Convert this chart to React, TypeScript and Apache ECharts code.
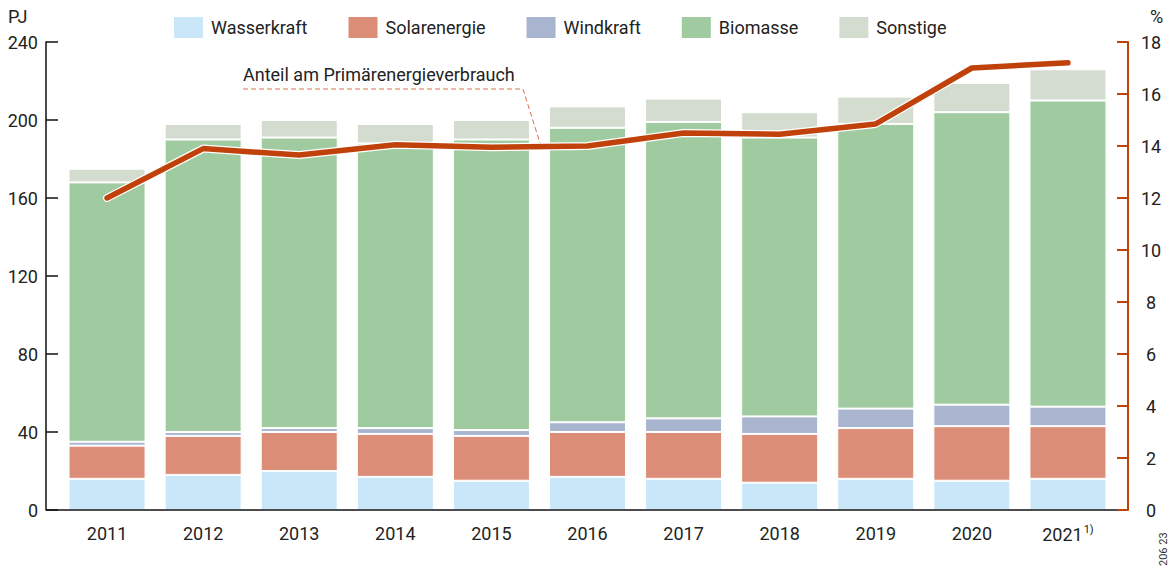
import React, { useEffect, useRef } from "react";
import * as echarts from "echarts";

const years = ["2011", "2012", "2013", "2014", "2015", "2016", "2017", "2018", "2019", "2020", "2021"];
const wasserkraft = [16, 18, 20, 17, 15, 17, 16, 14, 16, 15, 16];
const solarenergie = [17, 20, 20, 22, 23, 23, 24, 25, 26, 28, 27];
const windkraft = [2, 2, 2, 3, 3, 5, 7, 9, 10, 11, 10];
const biomasse = [133, 150, 149, 146, 149, 151, 152, 143, 146, 150, 157];
const sonstige = [7, 8, 9, 10, 10, 11, 12, 13, 14, 15, 16];
const anteil = [12.0, 13.9, 13.65, 14.05, 13.95, 14.0, 14.5, 14.45, 14.85, 17.0, 17.2];
const leftTicks = [0, 40, 80, 120, 160, 200, 240];
const rightTicks = [0, 2, 4, 6, 8, 10, 12, 14, 16, 18];

const FONT = "Roboto, 'Liberation Sans', sans-serif";
const TXT = "#222";
const ORANGE = "#C0410A";

export default function App() {
  const ref = useRef<HTMLDivElement>(null);
  useEffect(() => {
    if (!ref.current) return;
    const chart = echarts.init(ref.current, null, { renderer: "svg" });
    const barItem = (color: string) => ({ color, borderColor: "#fff", borderWidth: 1 });
    const mkBar = (name: string, data: number[], color: string) => ({
      name,
      type: "bar",
      stack: "pj",
      data,
      barWidth: 77,
      itemStyle: barItem(color),
      z: 2,
    });
    chart.setOption({
      animation: false,
      textStyle: { fontFamily: FONT, color: TXT },
      legend: {
        data: ["Wasserkraft", "Solarenergie", "Windkraft", "Biomasse", "Sonstige"],
        left: 172,
        top: 15,
        padding: 0,
        itemWidth: 31,
        itemHeight: 23,
        itemGap: 39,
        icon: "rect",
        textStyle: { fontFamily: FONT, fontSize: 18, color: TXT, padding: [0, 0, 0, 2] },
      },
      grid: { left: 59, right: 55, top: 42, bottom: 57, outerBoundsMode: "none", containLabel: false },
      xAxis: {
        type: "category",
        data: years,
        boundaryGap: true,
        axisLine: { show: false },
        axisTick: { show: false },
        axisLabel: {
          interval: 0,
          fontSize: 18,
          color: TXT,
          fontFamily: FONT,
          margin: 14,
          formatter: (v: string) => (v === "2021" ? "2021{sup|1)}" : v),
          rich: { sup: { fontSize: 11, verticalAlign: "top", padding: [0, 0, 10, 1], color: TXT, fontFamily: FONT } },
        },
      },
      yAxis: [
        {
          type: "value",
          min: leftTicks[0],
          max: leftTicks[leftTicks.length - 1],
          interval: 40,
          position: "left",
          offset: 13,
          axisLine: { show: true, lineStyle: { color: "#111", width: 1.5 } },
          axisTick: { show: true, inside: true, length: 12, lineStyle: { color: "#111", width: 1.5 } },
          axisLabel: { fontSize: 18, color: TXT, fontFamily: FONT, margin: 8 },
          splitLine: { show: false },
        },
        {
          type: "value",
          min: rightTicks[0],
          max: rightTicks[rightTicks.length - 1],
          interval: 2,
          position: "right",
          offset: 12,
          axisLine: { show: true, lineStyle: { color: ORANGE, width: 2 } },
          axisTick: { show: true, inside: true, length: 11, lineStyle: { color: ORANGE, width: 2 } },
          axisLabel: { fontSize: 18, color: TXT, fontFamily: FONT, margin: 23, align: "center" },
          splitLine: { show: false },
        },
      ],
      series: [
        mkBar("Wasserkraft", wasserkraft, "#C9E7F8"),
        mkBar("Solarenergie", solarenergie, "#DC8D77"),
        mkBar("Windkraft", windkraft, "#A9B5CF"),
        mkBar("Biomasse", biomasse, "#A0CAA0"),
        mkBar("Sonstige", sonstige, "#D4DCD0"),
        {
          name: "outline",
          type: "line",
          yAxisIndex: 1,
          data: anteil,
          symbol: "none",
          lineStyle: { color: "#fff", width: 8, cap: "round", join: "round" },
          z: 5,
          silent: true,
        },
        {
          name: "Anteil am Primärenergieverbrauch",
          type: "line",
          yAxisIndex: 1,
          data: anteil,
          symbol: "none",
          lineStyle: { color: ORANGE, width: 5.5, cap: "round", join: "round" },
          z: 6,
        },
      ],
      graphic: [
        {
          type: "line",
          shape: { x1: 46, y1: 510, x2: 1117, y2: 510 },
          style: { stroke: "#111", lineWidth: 1.5 },
          z: 4,
        },
        { type: "text", left: 8, top: 7, style: { text: "PJ", fontSize: 18, fill: TXT, fontFamily: FONT } },
        { type: "text", left: 1150, top: 7, style: { text: "%", fontSize: 18, fill: TXT, fontFamily: FONT } },
        {
          type: "text",
          left: 243,
          top: 65,
          style: { text: "Anteil am Primärenergieverbrauch", fontSize: 18, fill: TXT, fontFamily: FONT },
          z: 10,
        },
        {
          type: "polyline",
          shape: { points: [[243, 89], [523, 89], [540, 143]] },
          style: { stroke: "#D5714A", lineWidth: 1, lineDash: [5, 3], fill: "none" },
          z: 10,
        },
        {
          type: "text",
          x: 1158,
          y: 566,
          rotation: Math.PI / 2,
          style: { text: "206 23", fontSize: 11, fill: "#333", fontFamily: FONT },
          z: 10,
        },
      ],
    });
    return () => chart.dispose();
  }, []);
  return <div ref={ref} style={{ position: "absolute", left: 0, top: 0, width: 1171, height: 567 }} />;
}
